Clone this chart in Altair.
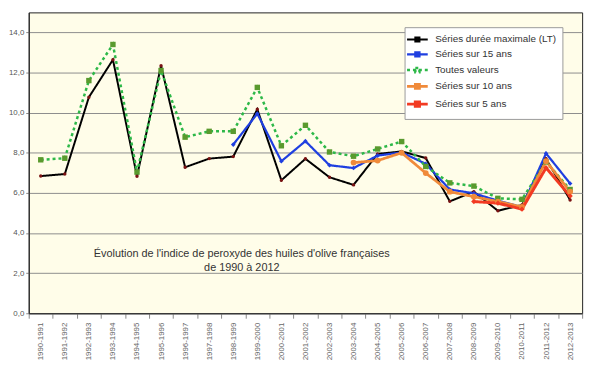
import altair as alt
import pandas as pd

categories = ["1990-1991", "1991-1992", "1992-1993", "1993-1994", "1994-1995", "1995-1996",
              "1996-1997", "1997-1998", "1998-1999", "1999-2000", "2000-2001", "2001-2002",
              "2002-2003", "2003-2004", "2004-2005", "2005-2006", "2006-2007", "2007-2008",
              "2008-2009", "2009-2010", "2010-2011", "2011-2012", "2012-2013"]

series_names = ["Séries durée maximale (LT)", "Séries sur 15 ans", "Toutes valeurs",
                "Séries sur 10 ans", "Séries sur 5 ans"]

lt = [6.84, 6.94, 10.77, 12.64, 6.83, 12.34, 7.28, 7.71, 7.81, 10.17, 6.63, 7.70,
      6.78, 6.40, 7.94, 8.07, 7.74, 5.58, 6.06, 5.11, 5.40, 7.70, 5.65]
s15 = [None] * 8 + [8.41, 9.95, 7.58, 8.58, 7.38, 7.24, 7.86, 8.02, 7.45, 6.17, 5.98,
                    5.61, 5.29, 7.97, 6.47]
toutes = [7.65, 7.73, 11.60, 13.40, 7.04, 12.10, 8.78, 9.07, 9.07, 11.26, 8.35, 9.37,
          8.04, 7.83, 8.19, 8.56, 7.32, 6.50, 6.34, 5.73, 5.68, 7.55, 6.17]
s10 = [None] * 13 + [7.51, 7.61, 8.00, 6.99, 6.06, 5.81, 5.57, 5.30, 7.58, 6.06]
s5 = [None] * 18 + [5.57, 5.49, 5.19, 7.25, 5.84]

line_colors = ["#000000", "#1f3fe0", "#2db848", "#f08a3a", "#f23a22"]
marker_colors = ["#7a1212", "#1f3fe0", "#5a9a2e", "#f08a3a", "#f23a22"]
marker_shapes = ["circle", "diamond", "square", "circle", "diamond"]
marker_sizes = [12, 22, 30, 34, 30]
line_widths = [2, 3, 3, 3, 3]
dashes = [[1, 0], [1, 0], [3, 3], [1, 0], [1, 0]]

rows = []
for name, vals in zip(series_names, [lt, s15, toutes, s10, s5]):
    for cat, v in zip(categories, vals):
        if v is not None:
            rows.append({"annee": cat, "valeur": v, "serie": name})
df = pd.DataFrame(rows)

font = "Liberation Sans"

x_enc = alt.X("annee:N", sort=categories, bandPosition=0.5,
              scale=alt.Scale(type="band", paddingInner=0, paddingOuter=0, domain=categories),
              axis=alt.Axis(title=None, labelAngle=270, labelAlign="right", labelBaseline="middle",
                            tickBand="extent", tickSize=5, tickColor="#888", domainColor="#222",
                            labelFontSize=8, labelColor="#666", labelFont=font, labelPadding=4,
                            grid=False))
y_enc = alt.Y("valeur:Q", scale=alt.Scale(domain=[0, 15], nice=False),
              axis=alt.Axis(title=None, values=[0, 2, 4, 6, 8, 10, 12, 14],
                            labelExpr="replace(format(datum.value, '.1f'), '.', ',')",
                            labelFontSize=8, labelColor="#555", labelFont=font,
                            gridColor="#8c8c8c", gridWidth=1, tickSize=3, tickColor="#888",
                            domainColor="#222", labelPadding=2))

legend_symbol = "M-2,0L2,0M-0.4,-0.4L0.4,-0.4L0.4,0.4L-0.4,0.4Z"

base = alt.Chart(df)

lines = base.mark_line().encode(
    x=x_enc,
    y=y_enc,
    color=alt.Color("serie:N", scale=alt.Scale(domain=series_names, range=line_colors),
                    legend=alt.Legend(title=None, orient="none", legendX=381, legendY=15,
                                      fillColor="white", strokeColor="#999", padding=6,
                                      symbolType=legend_symbol, symbolSize=110,
                                      symbolStrokeWidth=2.5, labelFontSize=10, labelFont=font,
                                      labelColor="#333", rowPadding=1, labelOffset=11,
                                      offset=0, symbolFillColor="transparent")),
    strokeDash=alt.StrokeDash("serie:N", scale=alt.Scale(domain=series_names, range=dashes),
                              legend=None),
    strokeWidth=alt.StrokeWidth("serie:N", scale=alt.Scale(domain=series_names, range=line_widths),
                                legend=None),
)

point_layers = []
for name, col, shp, sz in zip(series_names, marker_colors, marker_shapes, marker_sizes):
    point_layers.append(
        base.transform_filter(alt.datum.serie == name)
        .mark_point(filled=True, opacity=1, color=col, shape=shp, size=sz)
        .encode(x=x_enc, y=y_enc)
    )

annotation = alt.Chart(pd.DataFrame({"t": [0]})).mark_text(
    text=["Évolution de l'indice de peroxyde des huiles d'olive françaises", "de 1990 à 2012"],
    font=font, fontSize=11, color="#333", align="center", baseline="middle", lineHeight=14,
).encode(x=alt.value(216), y=alt.value(245))

chart = alt.layer(lines, *point_layers, annotation).properties(
    width=561, height=305,
    autosize=alt.AutoSizeParams(type="none"),
    padding={"left": 21, "top": 2, "right": 10, "bottom": 50},
).configure_view(fill="#fffde9", stroke="#222", strokeWidth=1)

chart.save("out.html", embed_options={"renderer": "svg", "actions": False})
